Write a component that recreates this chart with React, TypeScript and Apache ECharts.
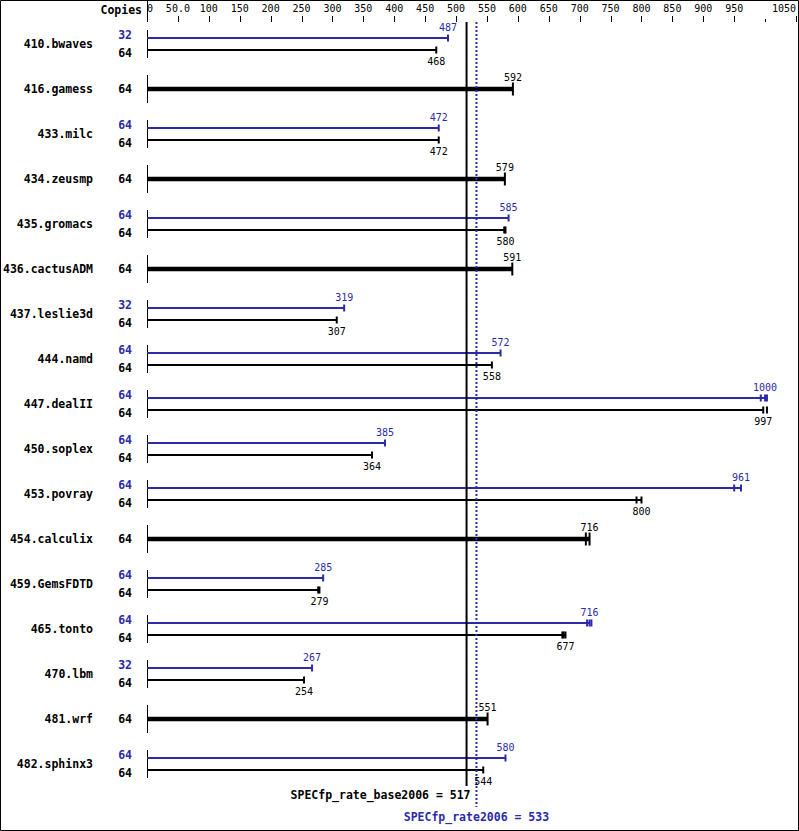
import React, { useEffect, useRef } from "react";
import * as echarts from "echarts";

const benchmarks = [
  "410.bwaves", "416.gamess", "433.milc", "434.zeusmp", "435.gromacs", "436.cactusADM",
  "437.leslie3d", "444.namd", "447.dealII", "450.soplex", "453.povray", "454.calculix",
  "459.GemsFDTD", "465.tonto", "470.lbm", "481.wrf", "482.sphinx3",
];
const peakCopies: (number | null)[] = [32, null, 64, null, 64, null, 32, 64, 64, 64, 64, null, 64, 64, 32, null, 64];
const baseCopies: number[] = [64, 64, 64, 64, 64, 64, 64, 64, 64, 64, 64, 64, 64, 64, 64, 64, 64];
const peakValues: (number | null)[] = [487, null, 472, null, 585, null, 319, 572, 1000, 385, 961, null, 285, 716, 267, null, 580];
const baseValues: number[] = [468, 592, 472, 579, 580, 591, 307, 558, 997, 364, 800, 716, 279, 677, 254, 551, 544];
const peakExtraRuns: number[][] = [[], [], [], [], [], [], [], [], [993, 1003], [], [950], [], [], [712, 719], [], [], []];
const baseExtraRuns: number[][] = [[], [], [], [], [578], [], [], [], [1003], [], [792], [710], [277], [672, 674], [], [], []];
const baseScore = 517;
const peakScore = 533;
const axisTicks: number[] = [50, 100, 150, 200, 250, 300, 350, 400, 450, 500, 550, 600, 650, 700, 750, 800, 850, 900, 950, 1050];
const minorTick = 1000;

const BLUE = "#2b2baa";
const MONO = '"DejaVu Sans Mono", "Liberation Mono", monospace';
const Y_MIN = -22 / 45;

export default function App() {
  const ref = useRef<HTMLDivElement>(null);
  useEffect(() => {
    document.body.style.margin = "0";
    if (!ref.current) return;
    const chart = echarts.init(ref.current, null, { renderer: "svg" });

    const renderRow = (params: any, api: any) => {
      const i = params.dataIndex;
      const [x0, c] = api.coord([0, i]);
      const children: any[] = [];
      children.push({
        type: "text",
        style: { text: benchmarks[i], x: x0 - 54, y: c, align: "right", verticalAlign: "middle", font: `bold 11.5px ${MONO}`, fill: "#000" },
      });
      children.push({ type: "line", shape: { x1: x0 + 0.5, y1: c - 14, x2: x0 + 0.5, y2: c + 14 }, style: { stroke: "#000", lineWidth: 1 } });
      const pv = peakValues[i];
      const hasPeak = pv != null;
      const bv = baseValues[i];
      const bx = api.coord([bv, i])[0];
      if (hasPeak) {
        const px = api.coord([pv, i])[0];
        const py = c - 6;
        children.push({ type: "line", shape: { x1: x0, y1: py, x2: px, y2: py }, style: { stroke: BLUE, lineWidth: 2 } });
        [pv, ...peakExtraRuns[i]].forEach((r) => {
          const rx = api.coord([r, i])[0];
          children.push({ type: "line", shape: { x1: rx, y1: py - 3.5, x2: rx, y2: py + 3.5 }, style: { stroke: BLUE, lineWidth: 2 } });
        });
        children.push({ type: "text", style: { text: String(pv), x: px, y: c - 17, align: "center", verticalAlign: "middle", font: `10px ${MONO}`, fill: BLUE } });
        children.push({ type: "text", style: { text: String(peakCopies[i]), x: x0 - 15, y: c - 9, align: "right", verticalAlign: "middle", font: `bold 11.5px ${MONO}`, fill: BLUE } });
        const by = c + 6;
        children.push({ type: "line", shape: { x1: x0, y1: by, x2: bx, y2: by }, style: { stroke: "#000", lineWidth: 2 } });
        [bv, ...baseExtraRuns[i]].forEach((r) => {
          const rx = api.coord([r, i])[0];
          children.push({ type: "line", shape: { x1: rx, y1: by - 3.5, x2: rx, y2: by + 3.5 }, style: { stroke: "#000", lineWidth: 2 } });
        });
        children.push({ type: "text", style: { text: String(bv), x: bx, y: c + 17, align: "center", verticalAlign: "middle", font: `10px ${MONO}`, fill: "#000" } });
        children.push({ type: "text", style: { text: String(baseCopies[i]), x: x0 - 15, y: c + 9, align: "right", verticalAlign: "middle", font: `bold 11.5px ${MONO}`, fill: "#000" } });
      } else {
        children.push({ type: "line", shape: { x1: x0, y1: c, x2: bx, y2: c }, style: { stroke: "#000", lineWidth: 4.5 } });
        [bv, ...baseExtraRuns[i]].forEach((r) => {
          const rx = api.coord([r, i])[0];
          children.push({ type: "line", shape: { x1: rx, y1: c - 6.5, x2: rx, y2: c + 6.5 }, style: { stroke: "#000", lineWidth: 2 } });
        });
        children.push({ type: "text", style: { text: String(bv), x: bx, y: c - 12, align: "center", verticalAlign: "middle", font: `10px ${MONO}`, fill: "#000" } });
        children.push({ type: "text", style: { text: String(baseCopies[i]), x: x0 - 15, y: c, align: "right", verticalAlign: "middle", font: `bold 11.5px ${MONO}`, fill: "#000" } });
      }
      return { type: "group", children };
    };

    const renderSummary = (params: any, api: any) => {
      const last = benchmarks.length - 1;
      const [bxs, top] = api.coord([baseScore, Y_MIN]);
      const pxs = api.coord([peakScore, Y_MIN])[0];
      const cLast = api.coord([0, last])[1];
      const [x0] = api.coord([0, 0]);
      const mx = api.coord([minorTick, 0])[0];
      const tickEls = axisTicks.map((t) => {
        const tx = Math.round(api.coord([t, 0])[0]) + 0.5;
        return { type: "line", shape: { x1: tx, y1: top - 6, x2: tx, y2: top }, style: { stroke: "#000", lineWidth: 1 } };
      });
      const mxr = Math.round(mx) + 0.5;
      return {
        type: "group",
        children: [
          ...tickEls,
          { type: "line", shape: { x1: mxr, y1: top - 3, x2: mxr, y2: top }, style: { stroke: "#000", lineWidth: 1 } },
          { type: "line", shape: { x1: bxs, y1: top, x2: bxs, y2: cLast + 22 }, style: { stroke: "#000", lineWidth: 2 } },
          { type: "line", shape: { x1: pxs, y1: top, x2: pxs, y2: cLast + 43 }, style: { stroke: BLUE, lineWidth: 2, lineDash: [2, 2] } },
          { type: "text", style: { text: `SPECfp_rate_base2006 = ${baseScore}`, x: bxs + 4, y: cLast + 31, align: "right", verticalAlign: "middle", font: `bold 11.5px ${MONO}`, fill: "#000" } },
          { type: "text", style: { text: `SPECfp_rate2006 = ${peakScore}`, x: pxs, y: cLast + 53, align: "center", verticalAlign: "middle", font: `bold 11.5px ${MONO}`, fill: BLUE } },
          { type: "line", shape: { x1: x0 + 0.5, y1: 0, x2: x0 + 0.5, y2: top }, style: { stroke: "#000", lineWidth: 1 } },
          { type: "text", style: { text: "Copies", x: x0 - 5, y: 10, align: "right", verticalAlign: "middle", font: `bold 11.5px ${MONO}`, fill: "#000" } },
        ],
      };
    };

    chart.setOption({
      animation: false,
      grid: { left: 147, right: 3, top: 22, bottom: 22, containLabel: false },
      xAxis: {
        type: "value",
        position: "top",
        min: 0,
        max: 1050,
        interval: 50,
        splitLine: { show: false },
        axisLine: { show: false },
        axisTick: { show: false },
        axisLabel: {
          margin: 9,
          color: "#000",
          fontFamily: MONO,
          fontSize: 10,
          hideOverlap: false,
          alignMinLabel: "left",
          alignMaxLabel: "right",
          formatter: (v: number) => (v === 50 ? "50.0" : v === minorTick ? "" : String(v)),
        },
      },
      yAxis: { type: "value", inverse: true, min: Y_MIN, max: 17, show: false },
      graphic: [
        { type: "rect", shape: { x: 0.5, y: 0.5, width: 798, height: 830 }, style: { fill: "none", stroke: "#000", lineWidth: 1 }, silent: true },
      ],
      series: [
        { type: "custom", renderItem: renderRow, data: benchmarks.map((_, i) => [baseValues[i], i]), encode: { x: 0, y: 1 }, clip: false },
        { type: "custom", renderItem: renderSummary, data: [[baseScore, 0]], encode: { x: 0, y: 1 }, clip: false },
      ],
    });
    return () => chart.dispose();
  }, []);
  return <div ref={ref} style={{ width: 799, height: 831 }} />;
}
